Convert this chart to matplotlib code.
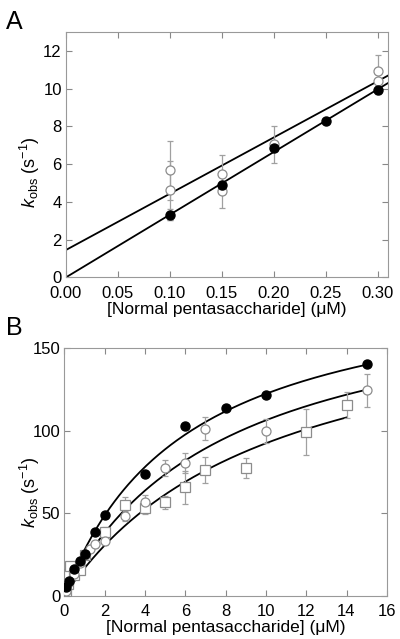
import numpy as np
import matplotlib
matplotlib.use("Agg")
import matplotlib.pyplot as plt

plt.rcParams['font.family'] = ['Liberation Sans', 'DejaVu Sans']
plt.rcParams['mathtext.fontset'] = 'custom'
plt.rcParams['mathtext.rm'] = 'Liberation Sans'
plt.rcParams['mathtext.it'] = 'Liberation Sans:italic'

# ---- Panel A data ----
a_fill_x = [0.10, 0.15, 0.20, 0.25, 0.30]
a_fill_y = [3.32, 4.88, 6.85, 8.30, 9.90]
a_fill_err = [0.3, 0.2, 0.15, 0.1, 0.2]

a_open_x = [0.10, 0.10, 0.15, 0.15, 0.20, 0.30, 0.30]
a_open_y = [5.66, 4.61, 5.49, 4.57, 7.05, 10.94, 10.42]
a_open_err = [1.55, 1.55, 1.0, 0.9, 0.97, 0.85, 0.5]

# linear fits (slope, intercept)
a_fit_open = (29.8, 1.45)
a_fit_fill = (33.2, 0.0)

# ---- Panel B data ----
b_fill_x = [0.1, 0.25, 0.5, 0.75, 1.0, 1.5, 2.0, 4.0, 6.0, 8.0, 10.0, 15.0]
b_fill_y = [5.2, 9.0, 16.0, 21.0, 25.5, 38.8, 48.6, 73.9, 102.6, 113.6, 121.5, 140.7]

b_open_x = [0.1, 0.25, 0.5, 0.75, 1.0, 1.25, 1.5, 2.0, 3.0, 4.0, 5.0, 6.0, 7.0, 10.0, 15.0]
b_open_y = [2.5, 8.0, 13.0, 19.5, 24.5, 28.1, 31.0, 33.0, 48.2, 56.8, 77.3, 80.6, 101.2, 99.8, 124.5]
b_open_err = [1.0, 1.0, 1.0, 1.0, 1.5, 1.5, 2.0, 2.5, 3.0, 4.0, 5.0, 6.0, 7.0, 7.0, 10.0]

b_sq_x = [0.08, 0.2, 0.23, 0.28, 0.5, 0.78, 1.0, 2.0, 3.0, 4.0, 5.0, 6.0, 7.0, 9.0, 12.0, 14.0]
b_sq_y = [3.0, 7.3, 12.9, 18.0, 12.3, 15.4, 24.3, 38.3, 55.0, 53.3, 56.5, 65.6, 76.3, 77.3, 99.0, 115.5]
b_sq_err = [1.0, 1.0, 1.0, 1.0, 1.0, 1.5, 1.5, 3.0, 5.0, 4.0, 4.0, 10.0, 8.0, 6.0, 14.0, 8.0]

# hyperbolic fits (kmax, K, x_end)
b_fit_fill = (197.0, 6.1, 15.0)
b_fit_open = (192.0, 8.06, 15.0)
b_fit_sq = (187.5, 10.3, 14.0)

gray = '#8c8c8c'
ebar = '#a0a0a0'


def style_axes(ax):
    ax.tick_params(direction='in', top=True, right=True, length=4, width=0.8,
                   color='#888888', labelsize=12)
    ax.tick_params(axis='x', pad=6)
    ax.tick_params(axis='y', pad=3)
    for s in ax.spines.values():
        s.set_color('#999999')
        s.set_linewidth(0.8)


fig = plt.figure(figsize=(4.0, 6.39), dpi=100)

# ---------- Panel A ----------
ax1 = fig.add_axes([0.165, 0.566, 0.805, 0.384])
xx = np.linspace(0, 0.31, 50)
for slope, icpt in (a_fit_open, a_fit_fill):
    ax1.plot(xx, slope * xx + icpt, color='black', lw=1.3, zorder=2)
ax1.errorbar(a_open_x, a_open_y, yerr=a_open_err, fmt='o', ms=6.5, mfc='white',
             mec=gray, mew=0.9, ecolor=ebar, elinewidth=0.9, capsize=2, zorder=3)
ax1.errorbar(a_fill_x, a_fill_y, yerr=a_fill_err, fmt='o', ms=6.5, mfc='black',
             mec='black', ecolor=ebar, elinewidth=0.9, capsize=2, zorder=4)
ax1.set_xlim(0, 0.31)
ax1.set_ylim(0, 13)
ax1.set_xticks(np.arange(0, 0.31, 0.05))
ax1.set_xticklabels([f'{v:.2f}' for v in np.arange(0, 0.31, 0.05)])
ax1.set_yticks(range(0, 13, 2))
ax1.set_xlabel('[Normal pentasaccharide] (μM)', fontsize=12.5, labelpad=1)
ax1.set_ylabel(r'$k_{\rm obs}$ (s$^{-1}$)', fontsize=13)
ax1.yaxis.set_label_coords(-0.075, 0.43)
style_axes(ax1)

# ---------- Panel B ----------
ax2 = fig.add_axes([0.161, 0.068, 0.806, 0.387])
for vmax, km, xend in (b_fit_fill, b_fit_open, b_fit_sq):
    xs = np.linspace(0, xend, 200)
    ax2.plot(xs, vmax * xs / (km + xs), color='black', lw=1.3, zorder=2)
ax2.errorbar(b_sq_x, b_sq_y, yerr=b_sq_err, fmt='s', ms=6.5, mfc='white',
             mec=gray, mew=0.9, ecolor=ebar, elinewidth=0.9, capsize=2, zorder=3)
ax2.errorbar(b_open_x, b_open_y, yerr=b_open_err, fmt='o', ms=6.5, mfc='white',
             mec=gray, mew=0.9, ecolor=ebar, elinewidth=0.9, capsize=2, zorder=3)
ax2.plot(b_fill_x, b_fill_y, 'o', ms=6.5, mfc='black', mec='black', zorder=4)
ax2.set_xlim(0, 16)
ax2.set_ylim(0, 150)
ax2.set_xticks(range(0, 17, 2))
ax2.set_yticks([0, 50, 100, 150])
ax2.set_xlabel('[Normal pentasaccharide] (μM)', fontsize=12.5, labelpad=1)
ax2.set_ylabel(r'$k_{\rm obs}$ (s$^{-1}$)', fontsize=13)
ax2.yaxis.set_label_coords(-0.07, 0.42)
style_axes(ax2)

fig.text(0.015, 0.985, 'A', fontsize=18, va='top', ha='left')
fig.text(0.015, 0.505, 'B', fontsize=18, va='top', ha='left')

fig.savefig('out.png', dpi=100)
